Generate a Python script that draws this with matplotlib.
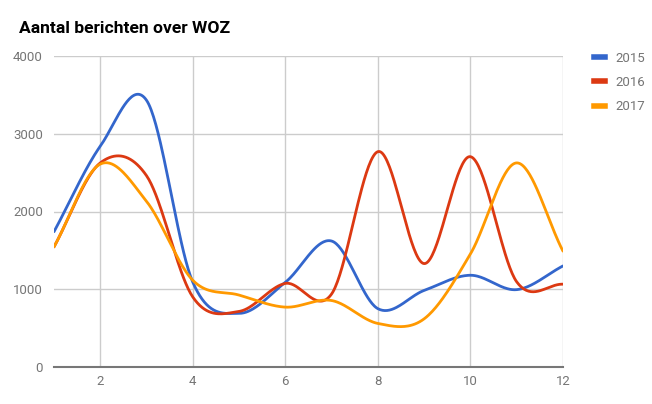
import numpy as np
import matplotlib
matplotlib.use("Agg")
import matplotlib.pyplot as plt
from matplotlib.lines import Line2D

plt.rcParams['font.family'] = ['Roboto', 'DejaVu Sans']

months = [1, 2, 3, 4, 5, 6, 7, 8, 9, 10, 11, 12]
series_names = ['2015', '2016', '2017']
v2015 = [1740, 2840, 3430, 1090, 690, 1090, 1620, 750, 985, 1180, 995, 1300]
v2016 = [1545, 2625, 2460, 900, 715, 1075, 940, 2770, 1330, 2705, 1095, 1065]
v2017 = [1545, 2610, 2130, 1115, 925, 770, 855, 560, 620, 1455, 2625, 1490]
colors = ['#3366cc', '#dc3912', '#ff9900']


def smooth(x, y, steps=40):
    # cubic hermite with catmull-rom tangents, like google's curveType 'function'
    x = np.asarray(x, float)
    y = np.asarray(y, float)
    n = len(x)
    m = np.zeros(n)
    for i in range(n):
        if i == 0:
            m[i] = (y[1] - y[0]) / (x[1] - x[0])
        elif i == n - 1:
            m[i] = (y[-1] - y[-2]) / (x[-1] - x[-2])
        else:
            m[i] = (y[i + 1] - y[i - 1]) / (x[i + 1] - x[i - 1])
    xs, ys = [], []
    for i in range(n - 1):
        h = x[i + 1] - x[i]
        t = np.linspace(0, 1, steps, endpoint=(i == n - 2))
        h00 = 2 * t**3 - 3 * t**2 + 1
        h10 = t**3 - 2 * t**2 + t
        h01 = -2 * t**3 + 3 * t**2
        h11 = t**3 - t**2
        xs.append(x[i] + t * h)
        ys.append(h00 * y[i] + h10 * h * m[i] + h01 * y[i + 1] + h11 * h * m[i + 1])
    return np.concatenate(xs), np.concatenate(ys)


fig = plt.figure(figsize=(6.52, 4.04), dpi=100)
ax = fig.add_axes([54 / 652, 1 - 367 / 404, (563 - 54) / 652, (367 - 56) / 404])

for vals, c in zip([v2015, v2016, v2017], colors):
    sx, sy = smooth(months, vals)
    ax.plot(sx, sy, color=c, lw=2, solid_capstyle='round', zorder=3)

ax.set_xlim(1, 12)
ax.set_ylim(0, 4000)
ax.set_xticks([2, 4, 6, 8, 10, 12])
ax.set_yticks([0, 1000, 2000, 3000, 4000])
ax.grid(True, color='#cccccc', lw=1)
ax.set_axisbelow(True)
for s in ['top', 'left', 'right']:
    ax.spines[s].set_visible(False)
ax.spines['bottom'].set_color('#777777')
ax.spines['bottom'].set_linewidth(1.5)
ax.tick_params(length=0, labelsize=9.5, labelcolor='#757575', pad=6)
ax.tick_params(axis='y', pad=8)

fig.text(19 / 652, 1 - 33 / 404, 'Aantal berichten over WOZ', fontsize=12.6,
         fontweight='bold', color='#000000', va='baseline', ha='left')

handles = [Line2D([], [], color=c, lw=4) for c in colors]
leg = fig.legend(handles, series_names, loc='upper left',
                 bbox_to_anchor=(582 / 652, 1 - 40 / 404), frameon=False,
                 handlelength=0.85, handletextpad=0.8, labelspacing=0.85,
                 fontsize=9.5)
for t in leg.get_texts():
    t.set_color('#757575')

fig.savefig('out.png', dpi=100)
